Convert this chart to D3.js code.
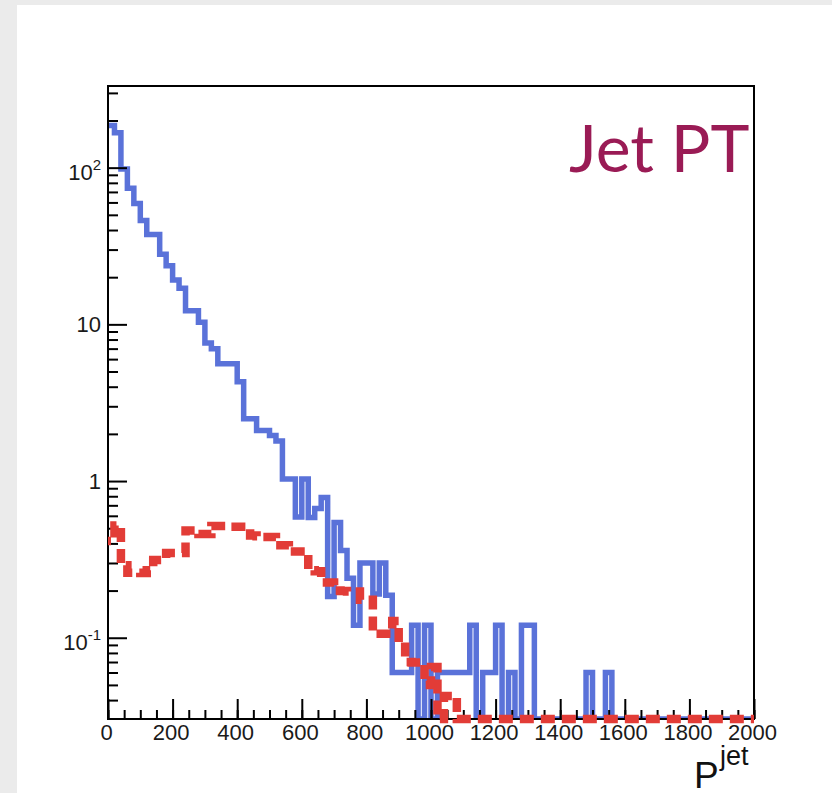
<!DOCTYPE html>
<html>
<head>
<meta charset="utf-8">
<script src="https://cdn.jsdelivr.net/npm/d3@7/dist/d3.min.js"></script>
<style>
  html, body { margin: 0; padding: 0; background: #fff; }
  svg { display: block; }
</style>
</head>
<body>
<svg id="chart" width="832" height="793"></svg>
<script>
// Jet transverse momentum spectrum: 100 bins of 20 GeV between 0 and 2000
const binLow = 0;
const binHigh = 2000;
const binWidth = 20;

// blue histogram, entries per bin (0 = empty bin)
const blueCounts = [
  186, 167, 98, 74, 59, 46, 37.5, 37.5, 28, 23.7,
  19.2, 17, 12.2, 12.2, 10.3, 7.6, 7.0, 5.6, 5.6, 5.6,
  4.3, 2.5, 2.5, 2.1, 2.1, 1.95, 1.8, 1.03, 1.03, 0.59,
  1.03, 0.585, 0.667, 0.785, 0.183, 0.543, 0.36, 0.24, 0.12, 0.3,
  0.3, 0.19, 0.3, 0.187, 0.06, 0.06, 0.06, 0.12, 0, 0.12,
  0, 0.06, 0.06, 0.06, 0.06, 0.06, 0.12, 0, 0.06, 0.06,
  0.12, 0, 0.06, 0, 0.12, 0.12, 0, 0, 0, 0,
  0, 0, 0, 0, 0.06, 0, 0, 0.06, 0, 0,
  0, 0, 0, 0, 0, 0, 0, 0, 0, 0,
  0, 0, 0, 0, 0, 0, 0, 0, 0, 0
];

// red histogram, entries per bin (0 = empty bin)
const redCounts = [
  0.414, 0.52, 0.29, 0.26, 0.26, 0.259, 0.27, 0.313, 0.313, 0.348,
  0.348, 0.348, 0.483, 0.483, 0.459, 0.459, 0.516, 0.516, 0.516, 0.51,
  0.51, 0.51, 0.449, 0.445, 0.44, 0.439, 0.39, 0.39, 0.355, 0.355,
  0.355, 0.27, 0.266, 0.225, 0.225, 0.2, 0.199, 0.197, 0.197, 0.175,
  0.175, 0.106, 0.106, 0.106, 0.128, 0.094, 0.07, 0.0695, 0.0695, 0.05,
  0.065, 0, 0.0425, 0.0425, 0, 0, 0, 0, 0, 0,
  0, 0, 0, 0, 0, 0, 0, 0, 0, 0,
  0, 0, 0, 0, 0, 0, 0, 0, 0, 0,
  0, 0, 0, 0, 0, 0, 0, 0, 0, 0,
  0, 0, 0, 0, 0, 0, 0, 0, 0, 0
];

// axis labelling
const xTickValues = [0, 200, 400, 600, 800, 1000, 1200, 1400, 1600, 1800, 2000];
const yLabelValues = [0.1, 1, 10, 100];
const yLabelBase = ["10", "1", "10", "10"];
const yLabelExp = ["-1", "", "", "2"];
const yRange = [0.0303, 332];
const chartTitle = "Jet PT";
const axisTitle = "P";
const axisTitleSup = "jet";

const svg = d3.select("#chart");
const W = 832, H = 793;
const plot = { left: 108, right: 754, top: 86, bottom: 719 };
const labelFont = "'Liberation Sans', Arial, Helvetica, sans-serif";

// page background
svg.append("rect").attr("width", W).attr("height", H).attr("fill", "#ebebeb");
svg.append("rect").attr("x", 17).attr("y", 5).attr("width", W - 17).attr("height", H - 5).attr("fill", "#ffffff");

const x = d3.scaleLinear().domain([binLow, binHigh]).range([plot.left, plot.right]);
const y = d3.scaleLog().domain(yRange).range([plot.bottom, plot.top]);
const yv = v => (v > 0 ? y(v) : y(yRange[0]));

// step outline points: left edge of each bin plus the final right edge
function stepPoints(counts) {
  const pts = counts.map((c, i) => [binLow + i * binWidth, c]);
  pts.push([binLow + counts.length * binWidth, counts[counts.length - 1]]);
  return pts;
}
const stepLine = d3.line()
  .x(d => x(d[0]))
  .y(d => yv(d[1]))
  .curve(d3.curveStepAfter);

// drawn length of a step outline from its start to the left edge of bin k
function stepLengthTo(counts, k) {
  let len = 0;
  for (let i = 0; i < k; i++) {
    len += x(binLow + (i + 1) * binWidth) - x(binLow + i * binWidth);
    len += Math.abs(yv(counts[i + 1]) - yv(counts[i]));
  }
  return len;
}

svg.append("clipPath").attr("id", "plotClip")
  .append("rect")
  .attr("x", plot.left).attr("y", plot.top)
  .attr("width", plot.right - plot.left).attr("height", plot.bottom - plot.top);

// blue histogram
svg.append("path")
  .attr("d", stepLine(stepPoints(blueCounts)))
  .attr("clip-path", "url(#plotClip)")
  .attr("fill", "none")
  .attr("stroke", "#5a72d9")
  .attr("stroke-width", 5.5)
  .attr("stroke-linejoin", "miter");

// frame
svg.append("rect")
  .attr("x", plot.left).attr("y", plot.top)
  .attr("width", plot.right - plot.left).attr("height", plot.bottom - plot.top)
  .attr("fill", "none").attr("stroke", "#000").attr("stroke-width", 2);

// x axis: minor ticks every 50, major every 200 (pointing into the frame)
const xMinor = d3.axisBottom(x).tickValues(d3.range(binLow, binHigh + 1, 50))
  .tickSize(-9).tickFormat("");
const xMajor = d3.axisBottom(x).tickValues(xTickValues)
  .tickSize(-20).tickPadding(5).tickFormat(d3.format("d"));
const gxMinor = svg.append("g").attr("transform", `translate(0,${plot.bottom})`).call(xMinor);
const gxMajor = svg.append("g").attr("transform", `translate(0,${plot.bottom})`).call(xMajor);
[gxMinor, gxMajor].forEach(g => {
  g.select(".domain").remove();
  g.selectAll(".tick line").attr("stroke", "#000").attr("stroke-width", 2);
});
gxMajor.selectAll(".tick text")
  .attr("font-family", labelFont)
  .attr("font-size", 22)
  .attr("fill", "#1a1a1a")
  .attr("dx", -2);

// y axis: log ticks, majors at powers of ten
const yAll = y.ticks().filter(v => v >= yRange[0] && v <= yRange[1]);
const isPow10 = v => Math.abs(Math.log10(v) - Math.round(Math.log10(v))) < 1e-9;
const yMinor = d3.axisLeft(y).tickValues(yAll.filter(v => !isPow10(v))).tickSize(-10).tickFormat("");
const yMajor = d3.axisLeft(y).tickValues(yLabelValues).tickSize(-19).tickFormat("");
const gyMinor = svg.append("g").attr("transform", `translate(${plot.left},0)`).call(yMinor);
const gyMajor = svg.append("g").attr("transform", `translate(${plot.left},0)`).call(yMajor);
[gyMinor, gyMajor].forEach(g => {
  g.select(".domain").remove();
  g.selectAll(".tick line").attr("stroke", "#000").attr("stroke-width", 2);
});

// y labels with exponents
const yLab = svg.append("g")
  .attr("font-family", labelFont)
  .attr("fill", "#1a1a1a")
  .attr("text-anchor", "end");
yLabelValues.forEach((v, i) => {
  const hasExp = yLabelExp[i] !== "";
  const t = yLab.append("text")
    .attr("x", plot.left - 7)
    .attr("y", y(v) + (hasExp ? 12.5 : 8))
    .attr("font-size", 22);
  t.append("tspan").text(yLabelBase[i]);
  if (hasExp) {
    t.append("tspan").attr("dy", -10).attr("font-size", 15).text(yLabelExp[i]);
  }
});

// red histogram, dashed; dash phase set so a dash starts where the trailing empty bins begin
const dashPeriod = 21;
let lastFilled = redCounts.length - 1;
while (lastFilled > 0 && redCounts[lastFilled] === 0) lastFilled--;
const cornerLen = stepLengthTo(redCounts, lastFilled + 1);
const dashOffset = (dashPeriod - (cornerLen % dashPeriod)) % dashPeriod;
svg.append("path")
  .attr("d", stepLine(stepPoints(redCounts)))
  .attr("fill", "none")
  .attr("stroke", "#e23c37")
  .attr("stroke-width", 8.5)
  .attr("stroke-dasharray", "14,7")
  .attr("stroke-dashoffset", dashOffset)
  .attr("stroke-linejoin", "miter");

// chart title
svg.append("text")
  .attr("x", 569).attr("y", 172)
  .attr("font-family", "Lato, 'Open Sans', sans-serif")
  .attr("font-size", 66)
  .attr("fill", "#9a1b55")
  .text(chartTitle);

// x-axis title
const xt = svg.append("g").attr("font-family", labelFont).attr("fill", "#111");
xt.append("text").attr("x", 694).attr("y", 788).attr("font-size", 37).text(axisTitle);
xt.append("text").attr("x", 720).attr("y", 765).attr("font-size", 27).text(axisTitleSup);
</script>
</body>
</html>
